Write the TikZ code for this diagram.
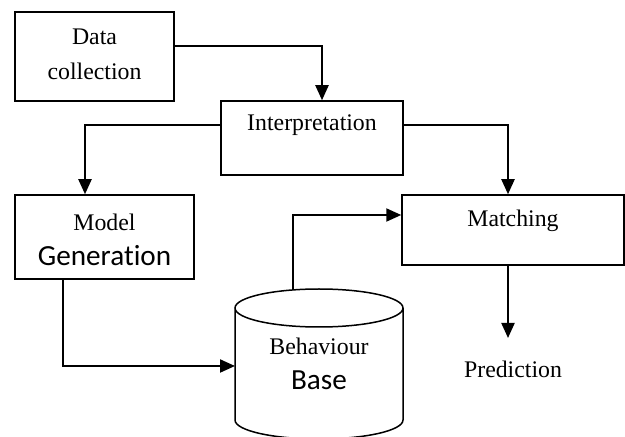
\documentclass[tikz,border=0pt]{standalone}
\usepackage{fontspec}
\setmainfont{Liberation Serif}
\newfontfamily\calib[Ligatures={NoCommon}]{Carlito}
\usetikzlibrary{arrows.meta,calc}
\begin{document}
\begin{tikzpicture}[x=0.5pt,y=-0.5pt,
  box/.style={draw,line width=0.75pt,inner sep=0pt},
  lbl/.style={font=\fontsize{11.9}{17.5}\selectfont,align=center,inner sep=0pt},
  conn/.style={line width=1.05pt,-{Triangle[length=7.5pt,width=6.5pt]}},
  link/.style={line width=1pt}]
\useasboundingbox (0,0) rectangle (625,437);
% boxes
\node[box,minimum width=79.5pt,minimum height=44.5pt] (data) at (94.5,56.5) {};
\node[lbl] (dataT) at (94.5,54) {Data\\collection};
\node[box,minimum width=91pt,minimum height=37pt] (interp) at (312,138) {};
\node[lbl] (interpT) at (312,125) {Interpretation};
\node[box,minimum width=89.5pt,minimum height=42pt] (model) at (104.5,237) {};
\node[lbl] (modelT) at (104.5,239.5) {Model\\{\calib\fontsize{14.6}{17.5}\selectfont Generation}};
\node[box,minimum width=111pt,minimum height=35pt] (match) at (513,230) {};
\node[lbl] (matchT) at (513,221) {Matching};
% cylinder
\draw[line width=0.75pt] (235,308) -- (235,420) arc[start angle=180,end angle=360,x radius=84,y radius=-19] -- (403,308)
  arc[start angle=0,end angle=360,x radius=84,y radius=-19];
\node[inner sep=0pt,minimum width=84pt,minimum height=56pt] (base) at (319,364) {};
\node[lbl] (baseT) at (319,364) {Behaviour\\{\calib\fontsize{14.6}{17.5}\selectfont Base}};
\coordinate (basetop) at (293,290);
\coordinate (baseleft) at (235,366);
% prediction
\node[lbl] (pred) at (513,369) {Prediction};
\coordinate (predtop) at (508,338);
% connectors
\draw[conn] ([yshift=5.25pt]data.east) -| ([xshift=5pt]interp.north);
\draw[conn] ([yshift=6.5pt]interp.west) -| ([xshift=-9.75pt]model.north);
\draw[conn] ([yshift=6.5pt]interp.east) -| ([xshift=-2.5pt]match.north);
\draw[conn] ([xshift=-20.75pt]model.south) |- (baseleft);
\draw[conn] (basetop) |- ([yshift=7.5pt]match.west);
\draw[conn] ([xshift=-2.5pt]match.south) -- (predtop);
\end{tikzpicture}
\end{document}
